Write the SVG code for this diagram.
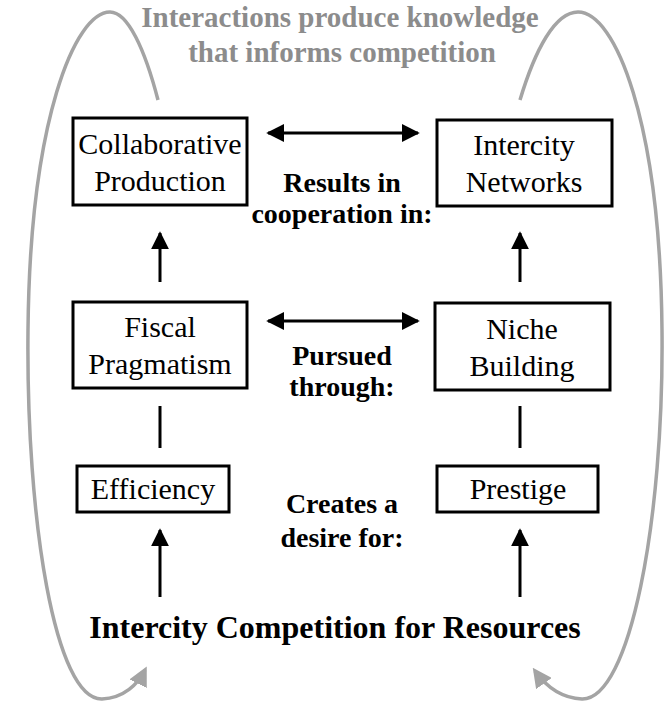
<svg xmlns="http://www.w3.org/2000/svg" width="666" height="709" viewBox="0 0 666 709">
<defs>
<marker id="ah" viewBox="0 0 10 10" refX="9" refY="5" markerWidth="6" markerHeight="6" markerUnits="strokeWidth" orient="auto-start-reverse"><path d="M0,0 L10,5 L0,10 z" fill="#000"/></marker>
<marker id="gh" viewBox="0 0 10 10" refX="8" refY="5" markerWidth="5.5" markerHeight="5.5" markerUnits="strokeWidth" orient="auto"><path d="M0,0 L10,5 L0,10 z" fill="#a4a4a4"/></marker>
<style>
.box{fill:#fff;stroke:#000;stroke-width:3}
.nt{font-family:"Liberation Serif","Times New Roman",serif;font-size:30px;fill:#000;text-anchor:middle}
.lb{font-family:"Liberation Serif","Times New Roman",serif;font-size:28px;font-weight:bold;fill:#000;text-anchor:middle}
.gt{font-family:"Liberation Serif","Times New Roman",serif;font-size:29px;font-weight:bold;fill:#8c8c8c;text-anchor:middle}
.ar{stroke:#000;stroke-width:3;fill:none}
.gc{stroke:#a4a4a4;stroke-width:3.5;fill:none}
</style>
</defs>
<g id="connectors">
<path class="gc" d="M158,100 C145,50 128,12 110,12 C75,12 30,120 28,330 C26,520 55,700 102,699 C124,698 138,684 145,670" marker-end="url(#gh)"/>
<path class="gc" d="M520,100 C535,50 555,12 578,12 C615,12 660,120 662,330 C664,520 630,700 582,699 C560,698 545,685 535,671" marker-end="url(#gh)"/>
<line class="ar" x1="268" y1="133" x2="418" y2="133" marker-start="url(#ah)" marker-end="url(#ah)"/>
<line class="ar" x1="268" y1="321" x2="418" y2="321" marker-start="url(#ah)" marker-end="url(#ah)"/>
<line class="ar" x1="160" y1="282" x2="160" y2="233" marker-end="url(#ah)"/>
<line class="ar" x1="520" y1="282" x2="520" y2="233" marker-end="url(#ah)"/>
<line class="ar" x1="160" y1="406" x2="160" y2="448"/>
<line class="ar" x1="520" y1="406" x2="520" y2="448"/>
<line class="ar" x1="160" y1="597" x2="160" y2="530" marker-end="url(#ah)"/>
<line class="ar" x1="520" y1="597" x2="520" y2="530" marker-end="url(#ah)"/>
</g>
<g id="title"><text class="gt" x="340" y="27">Interactions produce knowledge</text><text class="gt" x="342" y="62">that informs competition</text></g>
<g id="collab"><rect class="box" x="73" y="118" width="174" height="87"/><text class="nt" x="160" y="154">Collaborative</text><text class="nt" x="160" y="191">Production</text></g>
<g id="networks"><rect class="box" x="437" y="120" width="175" height="86"/><text class="nt" x="524" y="155">Intercity</text><text class="nt" x="524" y="192">Networks</text></g>
<g id="fiscal"><rect class="box" x="73" y="302" width="174" height="86"/><text class="nt" x="160" y="337">Fiscal</text><text class="nt" x="160" y="374">Pragmatism</text></g>
<g id="niche"><rect class="box" x="435" y="303" width="175" height="87"/><text class="nt" x="522" y="339">Niche</text><text class="nt" x="522" y="376">Building</text></g>
<g id="efficiency"><rect class="box" x="77" y="466" width="152" height="46"/><text class="nt" x="153" y="499">Efficiency</text></g>
<g id="prestige"><rect class="box" x="437" y="466" width="161" height="46"/><text class="nt" x="518" y="499">Prestige</text></g>
<g id="labels">
<text class="lb" x="342" y="192">Results in</text><text class="lb" x="342" y="223">cooperation in:</text>
<text class="lb" x="342" y="365">Pursued</text><text class="lb" x="342" y="396">through:</text>
<text class="lb" x="342" y="513">Creates a</text><text class="lb" x="342" y="547">desire for:</text>
</g>
<g id="base"><text class="lb" x="335" y="638" style="font-size:32px">Intercity Competition for Resources</text></g>
</svg>
